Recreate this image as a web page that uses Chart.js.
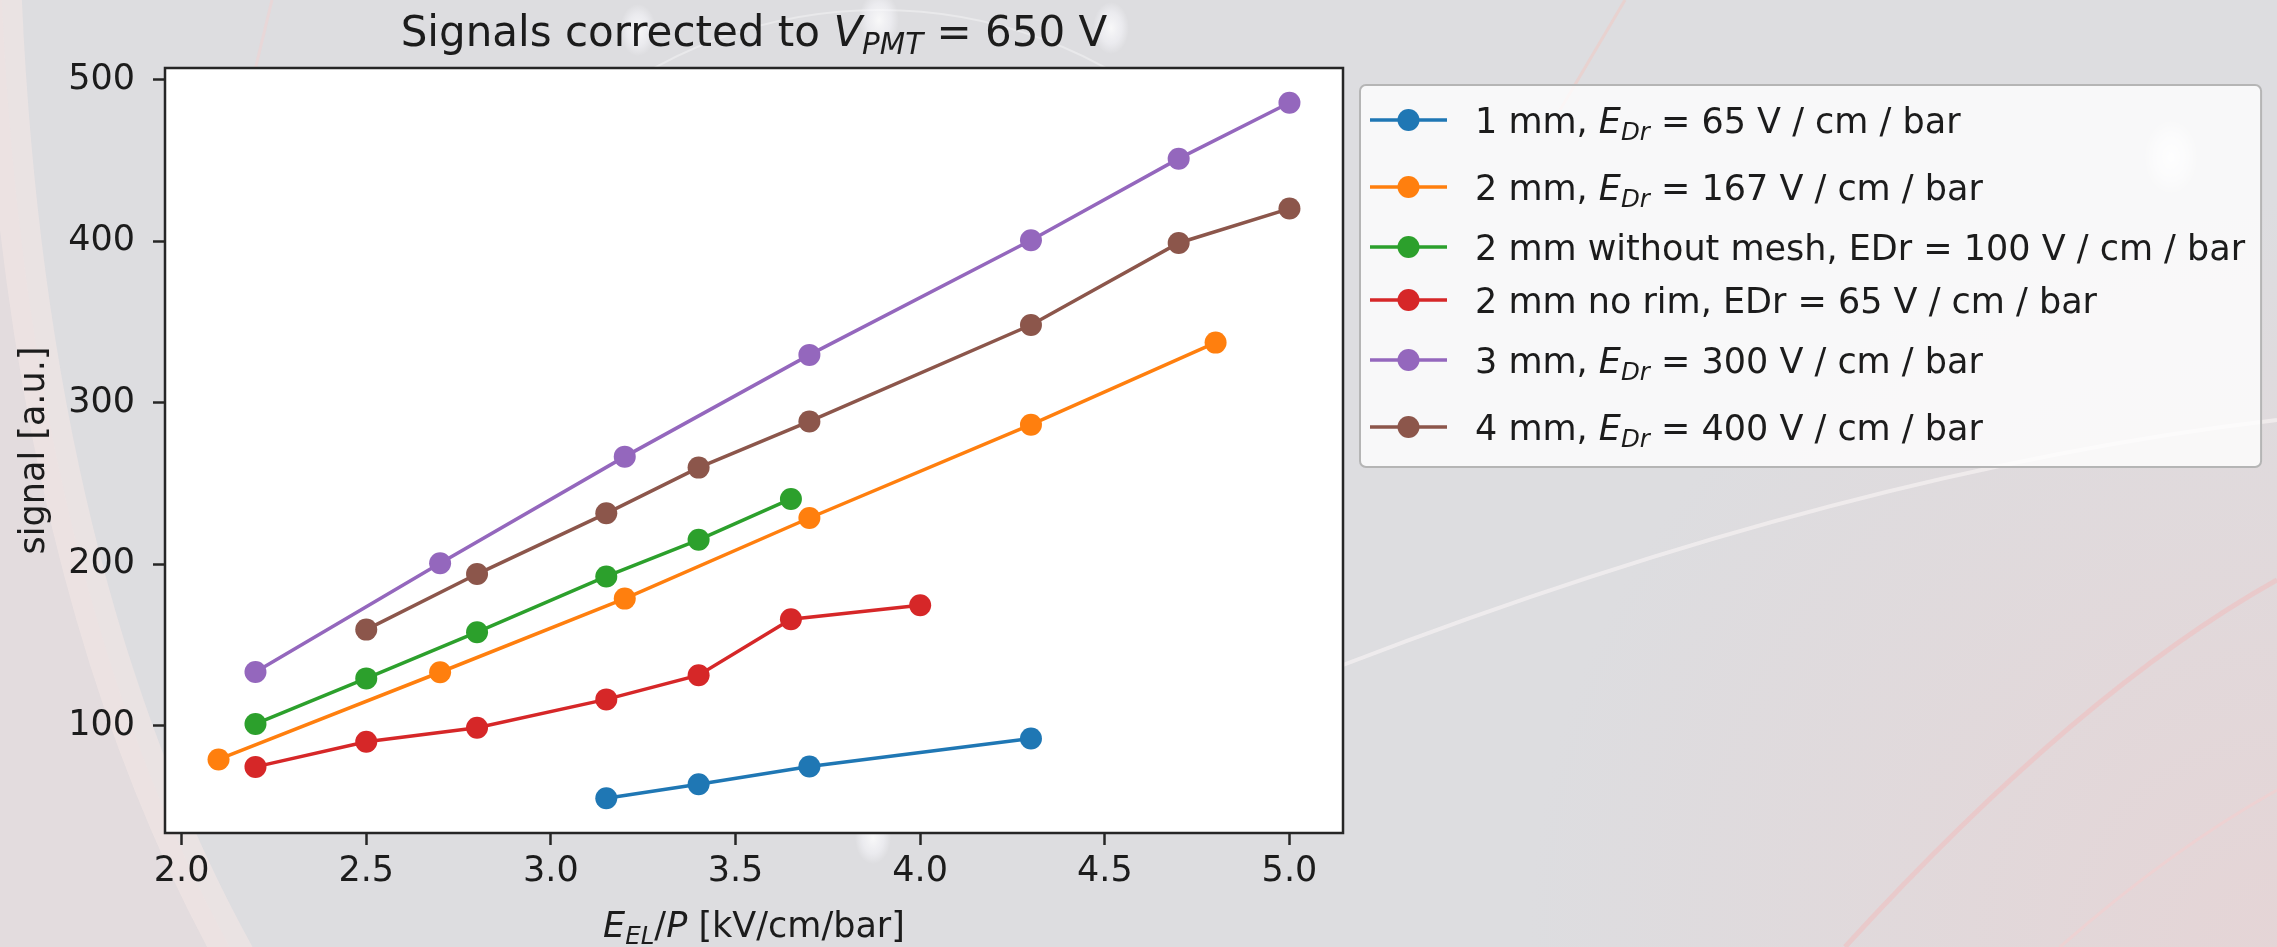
<!DOCTYPE html>
<html>
<head>
<meta charset="utf-8">
<title>Signals corrected to V_PMT = 650 V</title>
<script src="https://cdn.jsdelivr.net/npm/chart.js@4.4.1/dist/chart.umd.min.js"></script>
<style>
  html, body { margin: 0; padding: 0; background: #dddde0; overflow: hidden; }
  #plot { display: block; }
</style>
</head>
<body>
<canvas id="plot" width="2277" height="947"></canvas>
<script>
// E_EL/P [kV/cm/bar] and corrected signal [a.u.] for each gap setup
const x1mm = [3.15, 3.4, 3.7, 4.3];
const y1mm = [55, 63.7, 74.7, 92];
const x2mm = [2.1, 2.7, 3.2, 3.7, 4.3, 4.8];
const y2mm = [79, 133, 178.6, 228.5, 286.3, 337.1];
const x2mmNoMesh = [2.2, 2.5, 2.8, 3.15, 3.4, 3.65];
const y2mmNoMesh = [101, 129.2, 157.8, 192.3, 215, 240.3];
const x2mmNoRim = [2.2, 2.5, 2.8, 3.15, 3.4, 3.65, 4.0];
const y2mmNoRim = [74.4, 90, 98.6, 116.2, 131.2, 165.8, 174.5];
const x3mm = [2.2, 2.7, 3.2, 3.7, 4.3, 4.7, 5.0];
const y3mm = [133.2, 200.5, 266.5, 329.5, 400.5, 451, 485.6];
const x4mm = [2.5, 2.8, 3.15, 3.4, 3.7, 4.3, 4.7, 5.0];
const y4mm = [159.4, 193.8, 231.4, 259.7, 288.3, 348, 398.8, 420.1];

const seriesLabels = [
  '1 mm, $E_{Dr}$ = 65 V / cm / bar',
  '2 mm, $E_{Dr}$ = 167 V / cm / bar',
  '2 mm without mesh, EDr = 100 V / cm / bar',
  '2 mm no rim, EDr = 65 V / cm / bar',
  '3 mm, $E_{Dr}$ = 300 V / cm / bar',
  '4 mm, $E_{Dr}$ = 400 V / cm / bar'
];
const seriesColors = ['#1f77b4', '#ff7f0e', '#2ca02c', '#d62728', '#9467bd', '#8c564b'];
const xTicks = [2.0, 2.5, 3.0, 3.5, 4.0, 4.5, 5.0];
const yTicks = [100, 200, 300, 400, 500];

const titleText = 'Signals corrected to $V_{PMT}$ = 650 V';
const xTitle = '$E_{EL}/P$ [kV/cm/bar]';
const yTitle = 'signal [a.u.]';

const FONT = '"DejaVu Sans", "Liberation Sans", sans-serif';
const INK = '#1c1c1c';
const FS = 35;

const series = [
  [x1mm, y1mm], [x2mm, y2mm], [x2mmNoMesh, y2mmNoMesh],
  [x2mmNoRim, y2mmNoRim], [x3mm, y3mm], [x4mm, y4mm]
];

// autoscale like matplotlib: data range plus 5% on each side
function padRange(vals) {
  const lo = Math.min(...vals), hi = Math.max(...vals);
  const m = (hi - lo) * 0.05;
  return [lo - m, hi + m];
}
const xRange = padRange(series.flatMap(s => s[0]));
const yRange = padRange(series.flatMap(s => s[1]));

// tiny mathtext: "$E_{Dr}$" -> italic E + italic subscript Dr
function richSegments(str) {
  const out = [];
  str.split('$').forEach((part, i) => {
    if (i % 2 === 0) { if (part) out.push({ t: part, it: false, sub: false }); return; }
    let j = 0;
    while (j < part.length) {
      if (part[j] === '_' && part[j + 1] === '{') {
        const end = part.indexOf('}', j);
        out.push({ t: part.slice(j + 2, end), it: true, sub: true });
        j = end + 1;
      } else {
        out.push({ t: part[j], it: /[A-Za-z]/.test(part[j]), sub: false });
        j++;
      }
    }
  });
  return out;
}
function plainLabel(str) { return str.replace(/\$/g, '').replace(/_\{([^}]*)\}/g, '$1'); }
function segFont(seg, size) {
  return (seg.it ? 'italic ' : '') + (seg.sub ? size * 0.7 : size).toFixed(1) + 'px ' + FONT;
}
function richWidth(ctx, str, size) {
  let w = 0;
  for (const s of richSegments(str)) { ctx.font = segFont(s, size); w += ctx.measureText(s.t).width; }
  return w;
}
function drawRich(ctx, str, x, y, size, align) {
  let cx = align === 'center' ? x - richWidth(ctx, str, size) / 2 : x;
  ctx.textAlign = 'left';
  ctx.textBaseline = 'alphabetic';
  for (const s of richSegments(str)) {
    ctx.font = segFont(s, size);
    ctx.fillText(s.t, cx, s.sub ? y + size * 0.2 : y);
    cx += ctx.measureText(s.t).width;
  }
}

function glow(ctx, x, y, rx, ry, a) {
  ctx.save();
  ctx.translate(x, y);
  ctx.scale(rx / ry, 1);
  const g = ctx.createRadialGradient(0, 0, 0, 0, 0, ry);
  g.addColorStop(0, 'rgba(255,255,255,' + a + ')');
  g.addColorStop(0.6, 'rgba(250,250,255,' + (a * 0.6) + ')');
  g.addColorStop(1, 'rgba(250,250,255,0)');
  ctx.fillStyle = g;
  ctx.beginPath();
  ctx.arc(0, 0, ry, 0, Math.PI * 2);
  ctx.fill();
  ctx.restore();
}

// slide backdrop, then the white axes face
const backdrop = {
  id: 'backdrop',
  beforeDraw(chart) {
    const { ctx, chartArea: a } = chart;
    const W = chart.width, H = chart.height;
    ctx.save();
    ctx.fillStyle = '#dddde0';
    ctx.fillRect(0, 0, W, H);

    let g = ctx.createRadialGradient(W, H, 40, W, H, 750);
    g.addColorStop(0, 'rgba(236,205,205,0.5)');
    g.addColorStop(1, 'rgba(236,205,205,0)');
    ctx.fillStyle = g;
    ctx.fillRect(0, 0, W, H);

    // pale band sweeping down on the left
    ctx.beginPath();
    ctx.moveTo(0, -50);
    ctx.quadraticCurveTo(20, 600, 260, 1000);
    ctx.lineTo(0, 1000);
    ctx.closePath();
    ctx.fillStyle = 'rgba(238,220,220,0.4)';
    ctx.fill();
    ctx.beginPath();
    ctx.moveTo(0, -50);
    ctx.quadraticCurveTo(20, 600, 260, 1000);
    ctx.strokeStyle = 'rgba(244,232,230,0.55)';
    ctx.lineWidth = 40;
    ctx.stroke();

    // thin orbit lines
    ctx.lineWidth = 2;
    ctx.strokeStyle = 'rgba(255,255,255,0.35)';
    ctx.beginPath();
    ctx.ellipse(880, 420, 440, 410, 0, 0, Math.PI * 2);
    ctx.stroke();
    ctx.beginPath();
    ctx.moveTo(1343, 665);
    ctx.quadraticCurveTo(1850, 470, 2277, 420);
    ctx.lineWidth = 4;
    ctx.strokeStyle = 'rgba(250,245,245,0.6)';
    ctx.stroke();
    ctx.beginPath();
    ctx.moveTo(1845, 947);
    ctx.quadraticCurveTo(2080, 690, 2277, 580);
    ctx.lineWidth = 5;
    ctx.strokeStyle = 'rgba(240,190,190,0.55)';
    ctx.stroke();
    ctx.beginPath();
    ctx.moveTo(2060, 947);
    ctx.quadraticCurveTo(2170, 850, 2277, 790);
    ctx.lineWidth = 3;
    ctx.strokeStyle = 'rgba(245,205,205,0.55)';
    ctx.stroke();
    ctx.beginPath();
    ctx.moveTo(1625, 0);
    ctx.lineTo(1560, 110);
    ctx.lineWidth = 3;
    ctx.strokeStyle = 'rgba(240,200,195,0.55)';
    ctx.stroke();
    ctx.beginPath();
    ctx.moveTo(272, 0);
    ctx.lineTo(255, 70);
    ctx.strokeStyle = 'rgba(240,210,210,0.55)';
    ctx.stroke();

    glow(ctx, 638, 30, 18, 26, 0.8);
    glow(ctx, 879, 20, 20, 28, 0.8);
    glow(ctx, 1111, 28, 18, 26, 0.8);
    glow(ctx, 2171, 157, 26, 36, 0.85);
    glow(ctx, 873, 838, 18, 26, 0.8);

    ctx.fillStyle = '#ffffff';
    ctx.fillRect(a.left, a.top, a.right - a.left, a.bottom - a.top);
    ctx.restore();
  }
};

// full box around the axes, above the lines
const frame = {
  id: 'frame',
  afterDatasetsDraw(chart) {
    const { ctx, chartArea: a } = chart;
    ctx.save();
    ctx.strokeStyle = '#262626';
    ctx.lineWidth = 2.5;
    ctx.strokeRect(a.left, a.top, a.right - a.left, a.bottom - a.top);
    ctx.restore();
  }
};

// title and x label carry subscripts, so they are drawn by hand
const textLayer = {
  id: 'textLayer',
  afterDraw(chart) {
    const { ctx, chartArea: a } = chart;
    const cx = (a.left + a.right) / 2;
    ctx.save();
    ctx.fillStyle = INK;
    drawRich(ctx, titleText, cx, 46, 42, 'center');
    drawRich(ctx, xTitle, cx, 937, FS, 'center');
    ctx.restore();
  }
};

const legendBox = {
  id: 'legendBox',
  afterDraw(chart) {
    const { ctx, chartArea: a } = chart;
    const left = a.right + 17, top = a.top + 17;
    const handleX = left + 10, handleLen = 77;
    const textX = handleX + handleLen + 28;
    ctx.save();
    const widths = seriesLabels.map(l => richWidth(ctx, l, FS));
    const rowH = seriesLabels.map(l => l.includes('_{') ? 67 : 53);
    const rows = [];
    let y = top + 35;
    rowH.forEach((h, i) => { if (i) y += (rowH[i - 1] + h) / 2; rows.push(y); });
    const right = textX + Math.max(...widths) + 16;
    const bottom = rows[rows.length - 1] + 40;

    ctx.beginPath();
    ctx.roundRect(left, top, right - left, bottom - top, 6);
    ctx.fillStyle = 'rgba(255,255,255,0.8)';
    ctx.fill();
    ctx.lineWidth = 2;
    ctx.strokeStyle = '#b5b5b5';
    ctx.stroke();

    chart.data.datasets.forEach((ds, i) => {
      const ry = rows[i];
      ctx.strokeStyle = ds.borderColor;
      ctx.lineWidth = 3.5;
      ctx.beginPath();
      ctx.moveTo(handleX, ry);
      ctx.lineTo(handleX + handleLen, ry);
      ctx.stroke();
      ctx.fillStyle = ds.borderColor;
      ctx.beginPath();
      ctx.arc(handleX + handleLen / 2, ry, 11, 0, Math.PI * 2);
      ctx.fill();
      ctx.fillStyle = INK;
      drawRich(ctx, seriesLabels[i], textX, ry + FS * 0.365, FS, 'left');
    });
    ctx.restore();
  }
};

const tickGrid = {
  drawOnChartArea: false,
  drawTicks: true,
  tickLength: 12,
  tickWidth: 2.5,
  tickColor: '#262626'
};

new Chart(document.getElementById('plot'), {
  type: 'line',
  data: {
    datasets: series.map(([xs, ys], i) => ({
      label: plainLabel(seriesLabels[i]),
      data: xs.map((v, j) => ({ x: v, y: ys[j] })),
      borderColor: seriesColors[i],
      backgroundColor: seriesColors[i],
      pointBackgroundColor: seriesColors[i],
      pointBorderWidth: 0,
      pointRadius: 11,
      pointHoverRadius: 11,
      borderWidth: 3.5,
      tension: 0,
      fill: false,
      order: -i
    }))
  },
  options: {
    responsive: false,
    animation: false,
    events: [],
    layout: { padding: { left: 0, top: 68, right: 934, bottom: 0 } },
    plugins: {
      legend: { display: false },
      tooltip: { enabled: false }
    },
    scales: {
      x: {
        type: 'linear',
        min: xRange[0],
        max: xRange[1],
        afterFit(s) { s.height = 114; },
        afterBuildTicks(s) { s.ticks = xTicks.map(v => ({ value: v })); },
        ticks: {
          callback: v => v.toFixed(1),
          font: { family: FONT, size: FS },
          color: INK,
          padding: 6,
          maxRotation: 0,
          autoSkip: false
        },
        grid: tickGrid,
        border: { display: false }
      },
      y: {
        type: 'linear',
        min: yRange[0],
        max: yRange[1],
        afterFit(s) { s.width = 165; },
        afterBuildTicks(s) { s.ticks = yTicks.map(v => ({ value: v })); },
        ticks: {
          callback: v => String(v),
          font: { family: FONT, size: FS },
          color: INK,
          padding: 18,
          autoSkip: false
        },
        title: {
          display: true,
          text: yTitle,
          font: { family: FONT, size: FS },
          color: INK,
          padding: { top: 14, bottom: 0 }
        },
        grid: tickGrid,
        border: { display: false }
      }
    }
  },
  plugins: [backdrop, frame, textLayer, legendBox]
});
</script>
</body>
</html>
